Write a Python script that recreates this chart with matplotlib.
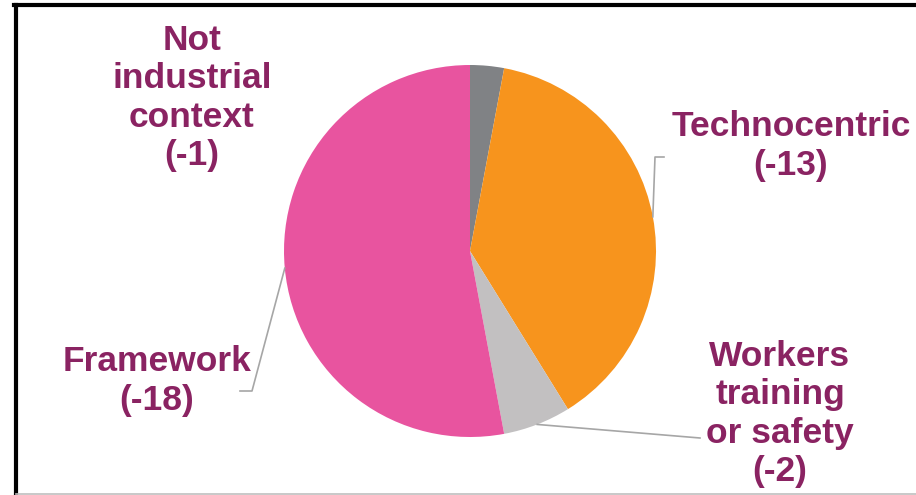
import numpy as np
import matplotlib.pyplot as plt
from matplotlib.lines import Line2D

categories = ['Not\nindustrial\ncontext', 'Technocentric', 'Workers\ntraining\nor safety', 'Framework']
counts = [1, 13, 2, 18]
colors = ['#808285', '#F7941D', '#C2C0C1', '#E8549F']
label_pos = [(192, 98), (791, 146), (780, 414), (157, 381)]

W, H = 916, 495
text_color = '#8A2362'
line_color = '#A6A6A6'

fig = plt.figure(figsize=(W / 100, H / 100), dpi=100)
ax = fig.add_axes([0, 0, 1, 1])

cx, cy, r = 470, H - 251, 186
wedges, _ = ax.pie(counts, colors=colors, startangle=90, counterclock=False,
                   center=(cx, cy), radius=r,
                   wedgeprops=dict(linewidth=0))
ax.set_xlim(0, W)
ax.set_ylim(0, H)
ax.set_aspect('equal')
ax.axis('off')

for cat, n, (lx, ly) in zip(categories, counts, label_pos):
    ax.text(lx, H - ly, f'{cat}\n(-{n})', ha='center', va='center', multialignment='center',
            fontsize=25.5, fontweight='bold', family='Liberation Sans', color=text_color,
            linespacing=1.2)

def edge_point(w):
    a = np.deg2rad((w.theta1 + w.theta2) / 2)
    return cx + r * np.cos(a), cy + r * np.sin(a)

# leader lines
x0, y0 = edge_point(wedges[1])
ax.plot([x0, 655, 664], [y0, H - 157, H - 157], color=line_color, lw=1.2)
x0, y0 = edge_point(wedges[2])
ax.plot([x0, 700], [y0, H - 438], color=line_color, lw=1.2)
x0, y0 = edge_point(wedges[3])
ax.plot([x0, 252, 240], [y0, H - 391, H - 391], color=line_color, lw=1.2)

# frame
fig.add_artist(Line2D([16 / W, 16 / W], [0, 1 - 5 / H], transform=fig.transFigure, color='black', lw=3))
fig.add_artist(Line2D([14.5 / W, 1], [1 - 5 / H, 1 - 5 / H], transform=fig.transFigure, color='black', lw=3))
fig.add_artist(Line2D([16 / W, 1], [1.5 / H, 1.5 / H], transform=fig.transFigure, color='#BFBFBF', lw=1.2))

fig.savefig('out.png', dpi=100)
